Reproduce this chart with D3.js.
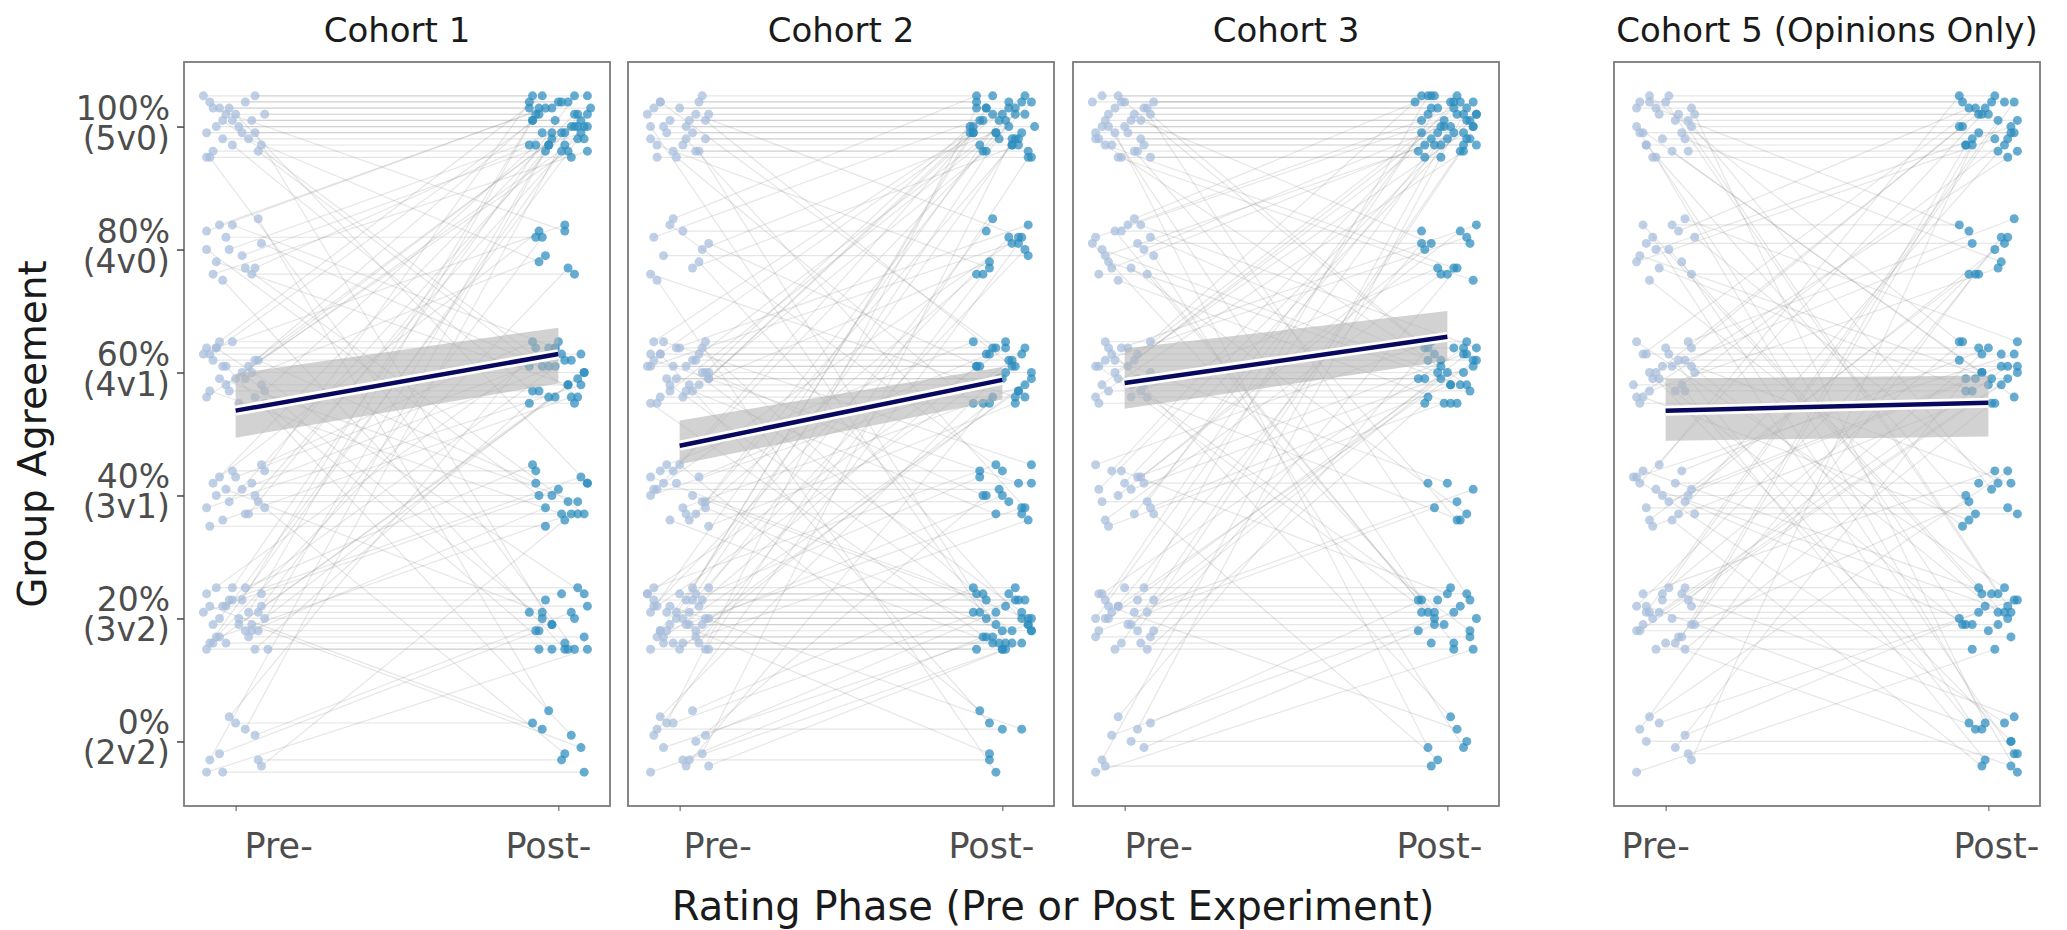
<!DOCTYPE html>
<html>
<head>
<meta charset="utf-8">
<script src="https://cdn.jsdelivr.net/npm/d3@7"></script>
<style>
body { margin: 0; background: #fff; }
text { font-family: "DejaVu Sans", sans-serif; }
</style>
</head>
<body>
<div id="chart"></div>
<script>
// agreement levels and their labels
var levels = [0, 20, 40, 60, 80, 100];
var levelPct = ["0%", "20%", "40%", "60%", "80%", "100%"];
var levelVotes = ["(2v2)", "(3v2)", "(3v1)", "(4v1)", "(4v0)", "(5v0)"];

var phaseLabels = ["Pre-", "Post-"];
var panelTitles = ["Cohort 1", "Cohort 2", "Cohort 3", "Cohort 5 (Opinions Only)"];

// one row per rater: [pre %, post %, y jitter %, pre x jitter (1/100), post x jitter (1/100)]
var cohort1 = [
  [100,100,4,-8,3],[100,100,2,-3,-6],[100,100,5,6,9],[100,100,-1,-9,-2],[100,100,0,1,5],[100,100,3,-5,-9],
  [100,100,-3,8,2],[100,100,1,-1,7],[100,100,-4,-7,-4],[100,100,4,3,0],[100,100,-2,-4,8],[100,100,2,9,-7],
  [100,100,-5,-9,4],[100,100,1,5,-1],[100,100,3,-2,10],[100,100,-1,2,-5],[100,100,0,-6,6],[100,100,5,-10,-8],
  [100,80,-2,4,-6],[100,80,3,-7,2],[100,60,1,-4,-3],[100,60,-4,7,6],[100,60,-3,-1,-8],[100,40,2,0,9],
  [100,20,-1,6,-2],[100,20,-5,-8,5],
  [80,100,3,-9,-4],[80,100,-1,2,7],[80,100,4,-5,1],[80,100,-3,6,-9],[80,100,0,-2,4],[80,100,-4,-7,9],
  [80,80,2,-3,-7],[80,80,-4,5,5],[80,60,1,8,-5],[80,60,-2,-6,3],[80,60,4,-1,-1],[80,40,-3,3,8],
  [80,40,0,-9,-6],[80,20,-5,-4,2],[80,0,5,7,-3],
  [60,100,3,-8,-2],[60,100,-2,-3,6],[60,100,1,4,-8],[60,100,-4,-9,3],[60,100,2,6,9],[60,100,5,-5,-5],
  [60,100,-1,0,1],[60,100,-3,9,-7],[60,80,4,-6,2],[60,80,-1,3,-4],
  [60,60,2,-7,4],[60,60,-3,-2,-6],[60,60,0,5,8],[60,60,4,-9,-1],[60,60,-5,1,5],[60,60,1,-4,-9],
  [60,60,-2,8,3],[60,60,3,-10,7],[60,60,-4,6,-3],[60,60,5,-1,0],
  [60,40,-1,-5,6],[60,40,2,7,-7],[60,40,-3,-8,1],[60,20,0,2,-5],[60,20,4,-6,8],[60,20,-5,9,-2],[60,0,1,-3,4],
  [40,100,2,-7,5],[40,100,-3,4,-3],[40,100,4,9,-9],[40,100,-1,-2,2],[40,100,0,6,8],[40,80,3,-5,-6],
  [40,60,-2,-9,7],[40,60,1,2,-1],[40,60,5,8,-8],[40,60,-4,-4,4],[40,60,3,0,1],
  [40,40,-5,-8,-4],[40,40,2,5,9],[40,40,4,-1,-7],[40,40,-1,7,3],[40,40,0,-6,-2],[40,40,-3,3,6],
  [40,20,1,-3,-5],[40,0,-2,9,2],
  [20,100,-4,-8,1],[20,100,3,2,-6],[20,100,0,-5,9],[20,100,-2,7,-2],[20,100,5,-1,5],[20,100,1,4,-8],
  [20,80,-3,-6,3],[20,80,2,8,-5],
  [20,60,4,-9,-3],[20,60,-1,1,6],[20,60,-5,6,-9],[20,60,2,-3,2],[20,60,0,9,8],[20,60,-4,-7,-1],
  [20,40,3,-2,7],[20,40,-2,5,-4],[20,40,1,-10,0],[20,40,5,3,-8],[20,40,-3,-5,4],
  [20,20,-5,-9,-6],[20,20,-4,-3,2],[20,20,-3,4,8],[20,20,-1,-7,-2],[20,20,0,1,5],[20,20,1,7,-9],
  [20,20,2,-4,9],[20,20,3,-1,-4],[20,20,4,8,1],[20,20,5,-6,6],[20,20,-2,3,-7],[20,20,-5,10,3],
  [20,0,2,-8,-5],[20,0,-1,5,7],
  [0,100,-3,-8,-3],[0,100,2,3,6],[0,60,4,-2,-7],[0,40,-4,8,2],
  [0,20,-2,-5,-6],[0,20,1,6,4],[0,20,-5,-9,9],[0,0,3,0,-8],[0,0,-3,7,1],[0,0,-5,-4,8]
];

var cohort2 = [
  [100,100,4,-6,2],[100,100,1,3,-7],[100,100,-2,-9,5],[100,100,5,7,-3],[100,100,-4,-2,8],[100,100,2,9,0],
  [100,100,0,-5,-9],[100,100,-1,4,6],[100,100,3,-8,-5],[100,100,-3,1,3],[100,100,-5,-7,9],[100,100,4,6,-8],
  [100,100,1,-3,1],[100,100,-2,8,-1],[100,100,2,-10,7],[100,100,-4,5,-6],[100,100,3,0,4],[100,100,-1,-4,-2],
  [100,100,0,2,10],
  [100,80,-3,-7,-4],[100,80,2,5,6],[100,60,-5,-1,-9],[100,60,1,8,3],[100,60,4,-6,-2],[100,40,-2,2,7],
  [100,20,0,-9,-5],[100,20,-4,6,1],
  [80,100,2,-8,-3],[80,100,-3,4,5],[80,100,5,-2,-8],[80,100,0,7,2],[80,80,-1,-5,8],[80,80,3,1,-5],
  [80,60,-4,-9,4],[80,60,1,9,-7],[80,40,4,-3,0],[80,20,-2,6,9],[80,0,-5,-7,-2],
  [60,100,-1,9,-10],[60,100,-1,9,-9],[60,100,0,8,-10],[60,100,3,-6,2],[60,100,-4,1,-5],[60,100,5,-8,7],
  [60,100,2,4,4],[60,100,-3,-3,-7],[60,80,1,-9,3],[60,80,-2,6,-4],[60,80,4,-1,8],
  [60,60,-5,-7,-6],[60,60,-3,2,5],[60,60,-1,-4,-1],[60,60,0,7,9],[60,60,1,-2,-8],[60,60,2,5,2],
  [60,60,3,-9,6],[60,60,4,0,-3],[60,60,5,8,1],[60,60,-4,-6,7],[60,60,-2,3,-9],[60,60,1,-10,4],
  [60,60,3,6,-5],[60,60,-1,-1,0],
  [60,40,2,-8,5],[60,40,-3,4,-2],[60,40,5,-5,9],[60,40,0,9,-6],[60,20,-2,-3,3],[60,20,4,7,-8],
  [60,20,-5,-9,0],[60,20,1,2,6],[60,0,3,-6,-4],
  [40,100,1,-7,-6],[40,100,-3,5,3],[40,100,4,-2,9],[40,100,-1,8,-2],[40,80,2,-5,5],[40,80,-4,3,-8],
  [40,60,0,-9,1],[40,60,3,6,-4],[40,60,-2,1,7],[40,60,5,-4,-9],[40,60,-5,9,4],
  [40,40,1,-8,-1],[40,40,-3,2,6],[40,40,4,-6,-7],[40,40,-1,7,2],[40,40,2,-1,9],
  [40,20,-4,-3,-3],[40,20,0,4,8],[40,20,3,-9,-5],[40,20,-2,8,0],[40,0,5,0,-7],
  [20,100,-2,-6,4],[20,100,3,2,-5],[20,100,-5,8,8],[20,100,1,-9,-1],[20,100,4,5,6],[20,100,-1,-3,-9],
  [20,80,2,-8,2],[20,80,-4,6,-6],[20,80,0,-1,7],[20,80,5,9,-3],
  [20,60,-3,-5,5],[20,60,1,3,-8],[20,60,4,-10,1],[20,60,-1,7,9],[20,60,-5,0,-4],[20,60,2,-7,3],
  [20,40,3,4,-7],[20,40,-2,-4,6],[20,40,0,9,0],[20,40,5,-8,-2],[20,40,-4,1,8],
  [20,20,-5,-9,-8],[20,20,-4,-2,3],[20,20,-3,5,-5],[20,20,-2,-6,9],[20,20,-1,2,-2],[20,20,0,8,6],
  [20,20,1,-4,-9],[20,20,2,6,1],[20,20,3,-8,7],[20,20,4,0,-6],[20,20,5,4,4],[20,20,-5,9,0],
  [20,20,-3,-7,-3],[20,20,-1,3,8],[20,20,1,-1,-7],[20,20,3,7,5],[20,20,-4,-5,-1],[20,20,0,1,9],
  [20,20,4,-10,2],[20,0,-2,5,-4],[20,0,2,-3,6],
  [0,100,3,-4,-8],[0,100,-2,7,3],[0,80,1,-8,5],[0,60,-4,2,-3],[0,60,4,-6,7],[0,40,0,5,-5],
  [0,20,-5,-9,1],[0,20,-3,1,-6],[0,20,-1,-5,8],[0,20,1,8,-2],[0,20,3,-2,4],[0,20,5,4,-9],[0,20,-4,9,6],
  [0,0,2,-7,0],[0,0,-3,3,-4]
];

var cohort3 = [
  [100,100,5,-7,-4],[100,100,3,-3,6],[100,100,1,2,-8],[100,100,-1,-9,2],[100,100,-3,6,9],[100,100,-5,-1,-2],
  [100,100,4,9,4],[100,100,2,-5,-6],[100,100,0,0,8],[100,100,-2,-8,0],[100,100,-4,4,-9],[100,100,5,-2,3],
  [100,100,3,7,-5],[100,100,1,-6,7],[100,100,-1,1,-3],[100,100,-3,-4,5],[100,100,-5,8,-7],[100,100,4,-10,1],
  [100,100,2,3,9],[100,100,0,-7,-1],[100,100,-2,5,6],[100,100,4,-1,-10],
  [100,80,-3,-6,2],[100,80,1,5,-5],[100,80,-5,-2,8],[100,60,2,8,-2],[100,60,-2,-9,6],[100,60,4,0,-7],
  [100,40,-4,3,3],[100,20,0,-5,-4],[100,20,3,6,7],[100,0,-1,-3,-6],
  [80,100,2,-9,3],[80,100,-3,-4,-7],[80,100,4,1,8],[80,100,0,6,-2],[80,100,-1,-6,5],[80,100,5,3,-5],
  [80,80,-4,-8,0],[80,80,1,4,7],[80,80,3,-1,-8],
  [80,60,-2,-5,4],[80,60,2,8,-6],[80,60,-5,-2,1],[80,60,4,5,9],[80,60,0,-7,-3],
  [80,40,-3,2,6],[80,20,3,-3,-9],[80,20,-4,7,2],[80,20,1,-10,-4],[80,0,-1,9,5],
  [60,100,-2,-7,-5],[60,100,3,4,2],[60,100,0,-3,8],[60,100,5,8,-8],[60,100,-4,-9,5],[60,100,1,1,-1],
  [60,80,2,-6,6],[60,80,-3,5,-3],[60,80,4,-1,9],
  [60,60,-5,-8,3],[60,60,-4,2,-6],[60,60,-3,-5,7],[60,60,-2,6,1],[60,60,-1,-2,-9],[60,60,0,8,5],
  [60,60,1,-9,-2],[60,60,2,3,8],[60,60,3,-4,-4],[60,60,4,1,2],[60,60,5,-6,6],[60,60,-1,4,-7],
  [60,40,2,-3,0],[60,40,-4,7,4],[60,20,1,-8,-6],[60,20,-2,2,7],[60,0,4,-5,1],
  [40,100,1,-8,6],[40,100,-3,3,-4],[40,100,4,-4,2],[40,100,-1,7,-8],[40,100,2,0,9],
  [40,80,-4,-6,-2],[40,80,3,5,4],[40,80,0,-2,-7],
  [40,60,-2,8,1],[40,60,5,-9,-5],[40,60,1,2,8],[40,60,-5,-5,-1],[40,60,3,4,5],
  [40,40,-1,-7,3],[40,40,2,6,-6],[40,20,4,-1,0],[40,0,-3,9,-3],
  [20,100,3,-6,-3],[20,100,-2,4,7],[20,100,0,-9,1],[20,100,5,6,-6],[20,100,-4,-1,4],
  [20,80,1,-4,-8],[20,80,-3,8,3],
  [20,60,4,-7,5],[20,60,-1,2,-2],[20,60,2,-2,9],[20,60,-5,7,-7],[20,60,0,-5,0],[20,60,3,9,6],
  [20,40,-2,-8,-4],[20,40,1,3,8],
  [20,20,-5,-3,2],[20,20,-4,5,-5],[20,20,-3,-9,7],[20,20,-1,1,-1],[20,20,0,-6,9],[20,20,1,7,-8],
  [20,20,2,-2,4],[20,20,3,4,-3],[20,20,4,-8,6],[20,20,5,0,1],[20,20,-2,9,-9],
  [20,0,2,-5,3],
  [0,100,-3,-7,-2],[0,100,2,4,5],[0,60,4,-2,-6],
  [0,20,-5,-9,8],[0,20,-1,6,-4],[0,20,1,-4,2],[0,20,3,8,-8],[0,0,-4,-6,-5],[0,0,0,2,6]
];

var cohort5 = [
  [100,100,4,-8,5],[100,100,2,-2,-3],[100,100,-1,5,8],[100,100,-3,-6,-7],[100,100,5,1,2],[100,100,0,8,-9],
  [100,100,-5,-4,6],[100,100,3,-9,-1],[100,100,1,3,9],[100,100,-2,-1,-5],[100,100,-4,7,3],[100,100,4,-5,-8],
  [100,100,2,9,0],[100,100,-1,-7,7],
  [100,80,3,-3,-6],[100,80,-2,6,4],[100,60,0,-9,-2],[100,60,-4,2,8],[100,60,5,-5,-9],
  [100,40,1,7,1],[100,40,-3,-6,-4],[100,20,2,4,6],[100,20,-1,-8,-7],[100,20,4,0,3],
  [100,0,-5,-3,9],[100,0,3,8,-1],
  [80,100,-2,-9,2],[80,100,3,4,-6],[80,100,0,-3,7],[80,80,-4,8,-3],[80,80,1,-6,5],[80,80,4,2,-9],
  [80,60,-1,-8,1],[80,60,5,6,9],[80,60,-3,-2,-5],[80,40,2,9,3],[80,40,-5,-5,-8],
  [80,20,0,1,6],[80,20,4,-7,-2],[80,0,-2,5,8],[80,0,2,-4,-4],
  [60,100,3,-7,-4],[60,100,-2,5,6],[60,100,0,-3,-8],[60,100,4,8,1],[60,100,-4,-9,9],
  [60,80,1,2,-5],[60,80,-3,-5,3],[60,80,5,7,8],
  [60,60,-5,-8,2],[60,60,-3,3,-7],[60,60,-1,-4,6],[60,60,0,9,-2],[60,60,1,-1,9],[60,60,2,6,-9],
  [60,60,3,-6,4],[60,60,4,0,-3],[60,60,-2,-10,0],
  [60,40,2,4,7],[60,40,-4,-7,-6],[60,20,1,8,3],[60,20,-1,-2,-8],[60,20,5,-9,5],
  [60,0,-3,6,-1],[60,0,0,-5,7],[60,0,3,1,-6],
  [40,100,2,-8,-2],[40,100,-3,4,5],[40,100,5,-2,-9],[40,80,0,7,2],[40,80,-4,-5,-6],
  [40,60,3,-9,8],[40,60,-1,1,-4],[40,60,1,8,4],[40,60,-5,-4,-8],[40,60,4,5,0],
  [40,40,-2,-6,6],[40,40,2,3,-3],[40,40,-3,9,9],[40,40,0,-1,-7],
  [40,20,4,-7,1],[40,20,-1,6,-5],[40,20,1,-3,7],[40,0,-4,2,-2],[40,0,3,-10,5],
  [20,100,1,-6,3],[20,100,-3,5,-7],[20,100,4,-1,8],[20,100,-1,8,-3],[20,80,2,-9,6],[20,80,-4,3,-4],
  [20,60,0,-4,9],[20,60,3,7,-2],[20,60,-2,-8,4],[20,60,5,1,-8],[20,60,-5,6,1],[20,60,1,-2,6],
  [20,40,-1,9,-6],[20,40,4,-7,2],
  [20,20,-5,-3,-5],[20,20,-3,4,7],[20,20,-2,-9,0],[20,20,0,2,-9],[20,20,1,-5,5],[20,20,2,8,-1],
  [20,20,3,-1,9],[20,20,5,6,-3],[20,20,-1,-7,3],
  [20,0,-4,0,7],[20,0,2,-6,-2],[20,0,4,5,8],
  [0,100,-3,8,-5],[0,80,2,-8,4],[0,60,-1,3,-7],[0,40,4,-5,6],
  [0,20,-5,-9,2],[0,20,1,6,-3],[0,20,3,-2,8],[0,0,-2,7,9],[0,0,0,-6,7]
];

// linear fit (%) and its confidence band at Pre- and Post-, one value per panel
var fitPre = [53.8, 48.1, 58.3, 53.8];
var fitPost = [63.0, 58.8, 65.8, 55.1];
var ciLowPre = [49.4, 45.1, 54.1, 48.9];
var ciHighPre = [59.8, 52.2, 63.9, 59.0];
var ciLowPost = [58.2, 55.6, 61.9, 49.6];
var ciHighPost = [67.3, 60.9, 70.0, 59.5];

var cohorts = [cohort1, cohort2, cohort3, cohort5];

// svg params
var svgWidth = 2067;
var svgHeight = 930;

// panel boxes
var panelLeft = [184, 628, 1073, 1614];
var panelWidth = 426;
var panelTop = 62;
var panelBottom = 806;

// the Pre-/Post- labels sit a little off their ticks in the original
var preLabelShift = [43, 38, 34, -10];
var postLabelShift = [-10, -11, -8, 8];

var svg = d3.select("#chart")
    .append("svg")
    .attr("width", svgWidth)
    .attr("height", svgHeight);

svg.append("rect")
    .attr("width", svgWidth)
    .attr("height", svgHeight)
    .attr("fill", "#ffffff");

// shared y scale
var yScale = d3.scaleLinear()
    .domain([-10.5, 110.5])
    .range([panelBottom, panelTop]);

cohorts.forEach(function(rows, i) {

    var left = panelLeft[i];

    /// x scale for this panel, 1 = Pre-, 2 = Post-
    var xScale = d3.scaleLinear()
        .domain([0.84, 2.16])
        .range([left, left + panelWidth]);

    var g = svg.append("g");

    // clip so nothing spills out of the box
    g.append("clipPath")
        .attr("id", "clip" + i)
        .append("rect")
        .attr("x", left)
        .attr("y", panelTop)
        .attr("width", panelWidth)
        .attr("height", panelBottom - panelTop);

    var inner = g.append("g").attr("clip-path", "url(#clip" + i + ")");

    // pre -> post lines
    inner.selectAll("line.pair")
        .data(rows)
        .enter()
        .append("line")
        .attr("class", "pair")
        .attr("x1", d => xScale(1 + d[3] / 100))
        .attr("y1", d => yScale(d[0] + d[2]))
        .attr("x2", d => xScale(2 + d[4] / 100))
        .attr("y2", d => yScale(d[1] + d[2]))
        .attr("stroke", "#8c8c8c")
        .attr("stroke-opacity", 0.22)
        .attr("stroke-width", 1.2);

    // pre points
    inner.selectAll("circle.pre")
        .data(rows)
        .enter()
        .append("circle")
        .attr("class", "pre")
        .attr("cx", d => xScale(1 + d[3] / 100))
        .attr("cy", d => yScale(d[0] + d[2]))
        .attr("r", 4.5)
        .attr("fill", "#a6bddb")
        .attr("opacity", 0.72);

    // post points
    inner.selectAll("circle.post")
        .data(rows)
        .enter()
        .append("circle")
        .attr("class", "post")
        .attr("cx", d => xScale(2 + d[4] / 100))
        .attr("cy", d => yScale(d[1] + d[2]))
        .attr("r", 4.5)
        .attr("fill", "#2b8cbe")
        .attr("opacity", 0.72);

    // confidence band of the fit
    var band = [
        {x: 1, lo: ciLowPre[i], hi: ciHighPre[i]},
        {x: 2, lo: ciLowPost[i], hi: ciHighPost[i]}
    ];
    var area = d3.area()
        .x(d => xScale(d.x))
        .y0(d => yScale(d.lo))
        .y1(d => yScale(d.hi));
    inner.append("path")
        .datum(band)
        .attr("d", area)
        .attr("fill", "#b4b4b4")
        .attr("fill-opacity", 0.6);

    // fit line with a white halo
    var fit = [{x: 1, y: fitPre[i]}, {x: 2, y: fitPost[i]}];
    var line = d3.line().x(d => xScale(d.x)).y(d => yScale(d.y));
    inner.append("path")
        .datum(fit)
        .attr("d", line)
        .attr("stroke", "#ffffff")
        .attr("stroke-width", 10)
        .attr("fill", "none");
    inner.append("path")
        .datum(fit)
        .attr("d", line)
        .attr("stroke", "#08085e")
        .attr("stroke-width", 4.5)
        .attr("fill", "none");

    // panel border
    g.append("rect")
        .attr("x", left)
        .attr("y", panelTop)
        .attr("width", panelWidth)
        .attr("height", panelBottom - panelTop)
        .attr("fill", "none")
        .attr("stroke", "#7a7a7a")
        .attr("stroke-width", 1.8);

    // x ticks
    var xAxisG = g.append("g")
        .attr("transform", `translate(0,${panelBottom})`)
        .call(d3.axisBottom(xScale).tickValues([1, 2]).tickSize(5).tickFormat(""));
    xAxisG.select(".domain").remove();
    xAxisG.selectAll(".tick line").attr("stroke", "#555");

    // Pre- / Post- labels
    g.append("text")
        .attr("x", xScale(1) + preLabelShift[i])
        .attr("y", 858)
        .attr("text-anchor", "middle")
        .attr("font-size", 35)
        .attr("fill", "#4d4d4d")
        .text(phaseLabels[0]);
    g.append("text")
        .attr("x", xScale(2) + postLabelShift[i])
        .attr("y", 858)
        .attr("text-anchor", "middle")
        .attr("font-size", 35)
        .attr("fill", "#4d4d4d")
        .text(phaseLabels[1]);

    // panel title
    g.append("text")
        .attr("x", left + panelWidth / 2)
        .attr("y", 42)
        .attr("text-anchor", "middle")
        .attr("font-size", 34)
        .attr("fill", "#1a1a1a")
        .text(panelTitles[i]);
});

//// y axis only on the first panel
var yAxisG = svg.append("g")
    .attr("transform", `translate(${panelLeft[0]},0)`)
    .call(d3.axisLeft(yScale).tickValues(levels).tickSize(7).tickFormat(""));
yAxisG.select(".domain").remove();
yAxisG.selectAll(".tick line").attr("stroke", "#444").attr("stroke-width", 1.5);

var yLabels = svg.append("g")
    .selectAll("text")
    .data(levels)
    .enter()
    .append("text")
    .attr("text-anchor", "end")
    .attr("font-size", 33)
    .attr("fill", "#4d4d4d");
yLabels.append("tspan")
    .attr("x", 170)
    .attr("y", d => yScale(d) - 7)
    .text((d, i) => levelPct[i]);
yLabels.append("tspan")
    .attr("x", 170)
    .attr("y", d => yScale(d) + 23)
    .text((d, i) => levelVotes[i]);

// axis titles
svg.append("text")
    .attr("transform", "translate(46,434) rotate(-90)")
    .attr("text-anchor", "middle")
    .attr("font-size", 39)
    .attr("fill", "#1a1a1a")
    .text("Group Agreement");

svg.append("text")
    .attr("x", 1053)
    .attr("y", 920)
    .attr("text-anchor", "middle")
    .attr("font-size", 40)
    .attr("fill", "#1a1a1a")
    .text("Rating Phase (Pre or Post Experiment)");
</script>
</body>
</html>
